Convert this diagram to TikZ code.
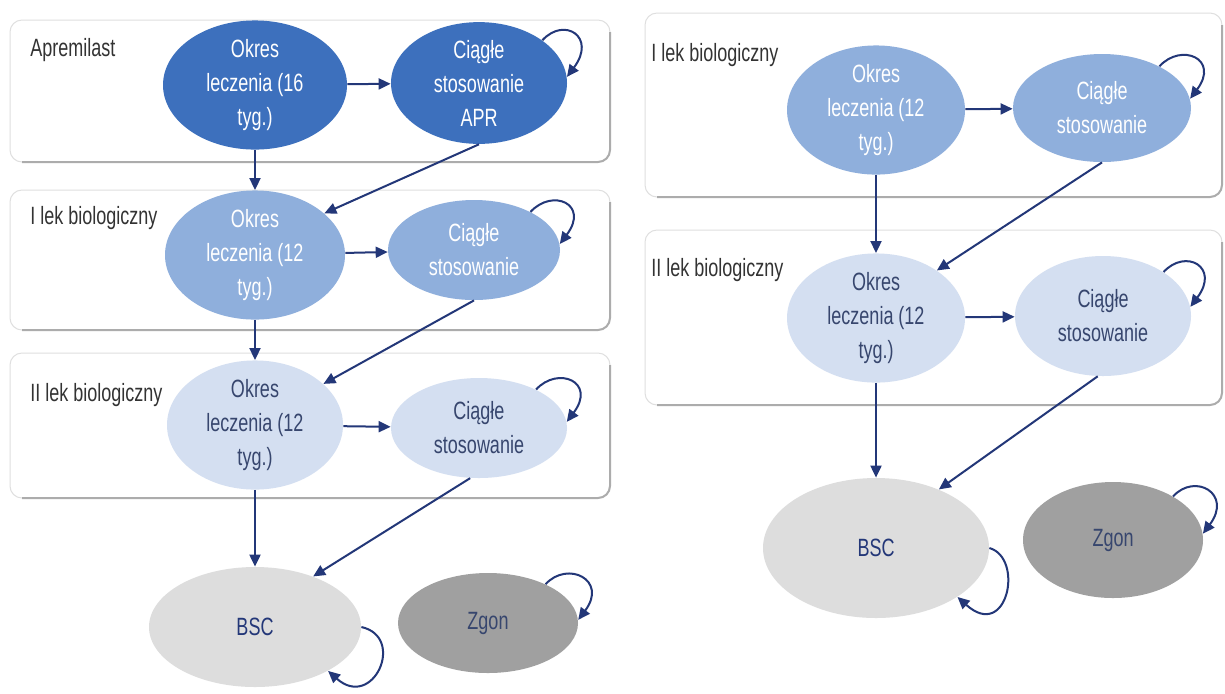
\documentclass[tikz,border=0pt]{standalone}
\usepackage{fontspec}
\setmainfont[FakeStretch=0.72]{Liberation Sans}
\usepackage{xcolor}
\usetikzlibrary{shapes.geometric,arrows.meta}
\definecolor{ciemny}{RGB}{61,112,189}
\definecolor{sredni}{RGB}{143,175,220}
\definecolor{jasny}{RGB}{212,223,241}
\definecolor{bscszary}{RGB}{221,221,221}
\definecolor{zgonszary}{RGB}{160,160,160}
\definecolor{strzalka}{RGB}{35,55,120}
\definecolor{napis}{RGB}{55,70,110}

\begin{document}
\begin{tikzpicture}[x=0.5pt,y=0.5pt,
	stan/.style={ellipse,inner sep=0pt,align=center,font=\fontsize{12.5}{17}\selectfont},
	stanciemny/.style={stan,fill=ciemny,text=white},
	stansredni/.style={stan,fill=sredni,text=white},
	stanjasny/.style={stan,fill=jasny,text=napis},
	panel/.style={draw=gray!25,fill=white,rounded corners=6pt,line width=0.5pt},
	cien/.style={draw=gray!65,rounded corners=6pt,line width=1pt},
	etykieta/.style={anchor=west,inner sep=0pt,font=\fontsize{12.5}{15}\selectfont,text=black!80},
	strz/.style={draw=strzalka,line width=1pt,-{Triangle[length=6pt,width=5.5pt]}}]

	\useasboundingbox[fill=white] (0,0) rectangle (1225,-693);

	\draw[panel] (10,-20) rectangle (610,-162);
	\draw[cien] (22,-162) -- (610,-162) -- (610,-32);
	\draw[panel] (10,-190) rectangle (610,-330);
	\draw[cien] (22,-330) -- (610,-330) -- (610,-202);
	\draw[panel] (10,-353) rectangle (610,-498);
	\draw[cien] (22,-498) -- (610,-498) -- (610,-365);
	\draw[panel] (645,-13) rectangle (1222,-197);
	\draw[cien] (657,-197) -- (1222,-197) -- (1222,-25);
	\draw[panel] (645,-230) rectangle (1222,-405);
	\draw[cien] (657,-405) -- (1222,-405) -- (1222,-242);

	\node[etykieta] (apr) at (30,-50) {Apremilast};
	\node[etykieta] (lek1L) at (30,-218) {I lek biologiczny};
	\node[etykieta] (lek2L) at (30,-395) {II lek biologiczny};
	\node[etykieta] (lek1R) at (651,-55) {I lek biologiczny};
	\node[etykieta] (lek2R) at (651,-270) {II lek biologiczny};

	\node[stanciemny,minimum width=92pt,minimum height=52pt] (oA) at (255,-85) {Okres\\leczenia (16\\tyg.)};
	\node[stanciemny,minimum width=88pt,minimum height=50pt] (cA) at (479,-83) {Ciągłe\\stosowanie\\APR};
	\node[stansredni,minimum width=90pt,minimum height=50pt] (oL1) at (255,-255) {Okres\\leczenia (12\\tyg.)};
	\node[stansredni,minimum width=86pt,minimum height=50pt] (cL1) at (474,-250) {Ciągłe\\stosowanie};
	\node[stanjasny,minimum width=88pt,minimum height=53pt] (oL2) at (255,-425) {Okres\\leczenia (12\\tyg.)};
	\node[stanjasny,minimum width=88pt,minimum height=50pt] (cL2) at (479,-428) {Ciągłe\\stosowanie};
	\node[stan,fill=bscszary,text=strzalka,minimum width=106pt,minimum height=60pt] (bscL) at (255,-627) {BSC};
	\node[stan,fill=zgonszary,text=napis,minimum width=90pt,minimum height=50pt] (zgonL) at (488,-623) {Zgon};

	\node[stansredni,minimum width=89pt,minimum height=63pt] (oR1) at (876,-110) {Okres\\leczenia (12\\tyg.)};
	\node[stansredni,minimum width=89pt,minimum height=54pt] (cR1) at (1102,-108) {Ciągłe\\stosowanie};
	\node[stanjasny,minimum width=89pt,minimum height=61pt] (oR2) at (876,-318) {Okres\\leczenia (12\\tyg.)};
	\node[stanjasny,minimum width=88pt,minimum height=60pt] (cR2) at (1103,-316) {Ciągłe\\stosowanie};
	\node[stan,fill=bscszary,text=strzalka,minimum width=113pt,minimum height=70pt] (bscR) at (876,-548) {BSC};
	\node[stan,fill=zgonszary,text=napis,minimum width=90pt,minimum height=58pt] (zgonR) at (1113,-540) {Zgon};

	\draw[strz] (oA) -- (cA);
	\draw[strz] (oA) -- (oL1);
	\draw[strz] (cA.south) -- (oL1.31);
	\draw[strz] (cA.34) .. controls +(22,24) and +(30,40) .. (cA.4);
	\draw[strz] (oL1) -- (cL1);
	\draw[strz] (oL1) -- (oL2);
	\draw[strz] (cL1.south) -- (oL2.31);
	\draw[strz] (cL1.34) .. controls +(22,24) and +(30,40) .. (cL1.4);
	\draw[strz] (oL2) -- (cL2);
	\draw[strz] (oL2) -- (bscL);
	\draw[strz] (cL2.260) -- (bscL.41);
	\draw[strz] (cL2.34) .. controls +(22,24) and +(30,40) .. (cL2.4);
	\draw[strz] (bscL.0) .. controls +(45,-10) and +(45,-40) .. (bscL.-31);
	\draw[strz] (zgonL.34) .. controls +(22,24) and +(30,40) .. (zgonL.2);

	\draw[strz] (oR1) -- (cR1);
	\draw[strz] (oR1) -- (oR2);
	\draw[strz] (cR1.south) -- (oR2.38);
	\draw[strz] (cR1.36) .. controls +(22,24) and +(30,40) .. (cR1.6);
	\draw[strz] (oR2) -- (cR2);
	\draw[strz] (oR2) -- (bscR);
	\draw[strz] (cR2.265) -- (bscR.43);
	\draw[strz] (cR2.36) .. controls +(22,24) and +(30,40) .. (cR2.6);
	\draw[strz] (bscR.0) .. controls +(35,-10) and +(50,-45) .. (bscR.-31);
	\draw[strz] (zgonR.36) .. controls +(22,24) and +(30,40) .. (zgonR.4);
\end{tikzpicture}
\end{document}
